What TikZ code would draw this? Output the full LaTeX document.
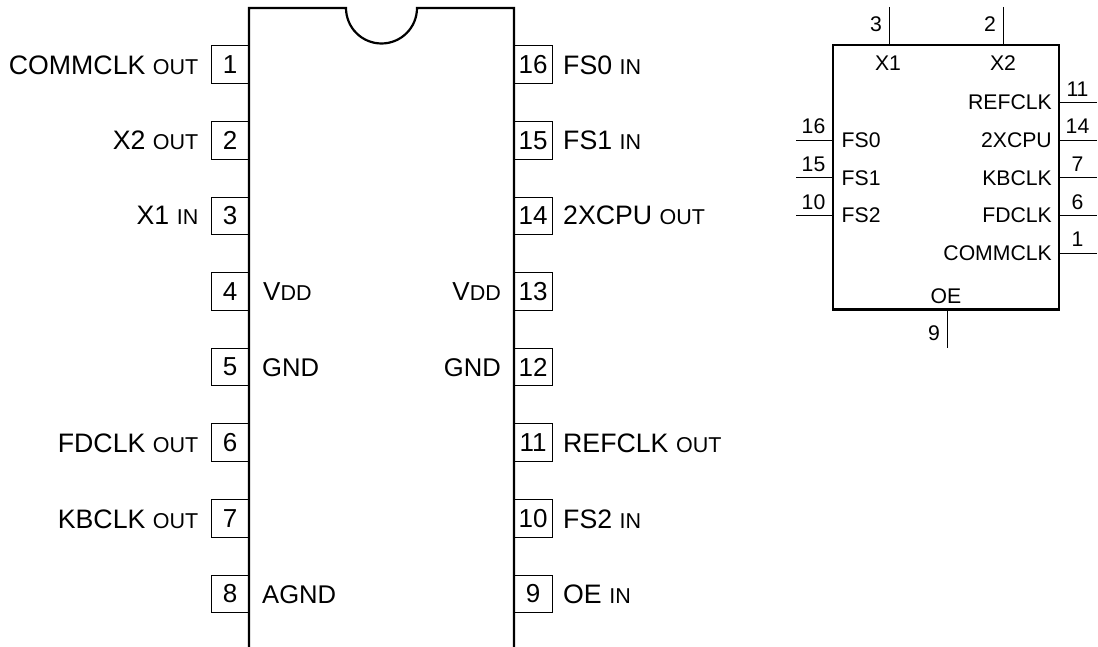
\documentclass[tikz,border=0pt]{standalone}
\usepackage{fontspec}
\setmainfont{Liberation Sans}
\newcommand{\bigf}{\fontsize{26}{28}\selectfont}
\newcommand{\labf}{\fontsize{26.7}{28}\selectfont}
\newcommand{\smf}{\fontsize{21.5}{24}\selectfont}
\newcommand{\blkf}{\fontsize{21.2}{24}\selectfont}
\newcommand{\lab}[2]{{\labf #1}\hspace{7.5pt}{\smf #2}}
\tikzset{
  x=1pt,y=-1pt,
  pinbox/.style={draw=black,line width=0.8pt,minimum width=38pt,minimum height=37.5pt,inner sep=0pt,font=\bigf},
  body/.style={draw=black,line width=2.2pt},
  biglab/.style={inner sep=0pt,font=\fontsize{25.6}{28}\selectfont},
  smlab/.style={inner sep=0pt,font=\blkf},
  lead/.style={draw=black,line width=0.9pt},
}
\begin{document}
\begin{tikzpicture}
\useasboundingbox (0,0) rectangle (1098,647);
% DIP body
\draw[body] (249,650) -- (249,8) -- (346,8) arc[start angle=180,end angle=360,x radius=35.5,y radius=-35.5] -- (514,8) -- (514,650);
% Left pins
\foreach \n/\yy in {1/64.5,2/140.3,3/215.9,4/291.5,5/367,6/442.6,7/518.2,8/593.8}
  \node[pinbox,anchor=center] (L\n) at (230,\yy) {\n};
% Right pins
\foreach \n/\yy in {16/64.5,15/140.3,14/215.9,13/291.5,12/367,11/442.6,10/518.2,9/593.8}
  \node[pinbox,anchor=center] (R\n) at (533,\yy) {\n};
% Left labels
\node[anchor=base east,inner sep=0pt] (tL1) at (198.5,74.5) {\lab{COMMCLK}{OUT}};
\node[anchor=base east,inner sep=0pt] (tL2) at (198.5,150) {\lab{X2}{OUT}};
\node[anchor=base east,inner sep=0pt] (tL3) at (198.5,225) {\lab{X1}{IN}};
\node[anchor=base east,inner sep=0pt] (tL6) at (198.5,452) {\lab{FDCLK}{OUT}};
\node[anchor=base east,inner sep=0pt] (tL7) at (198.5,528) {\lab{KBCLK}{OUT}};
% Inner labels
\node[anchor=base west,inner sep=0pt] (tV1) at (263,301) {{\bigf V}{\smf DD}};
\node[anchor=base west,biglab] (tG1) at (262,376) {GND};
\node[anchor=base west,biglab] (tA1) at (262,603) {AGND};
\node[anchor=base east,inner sep=0pt] (tV2) at (501,301) {{\bigf V}{\smf DD}};
\node[anchor=base east,biglab] (tG2) at (501,376) {GND};
% Right labels
\node[anchor=base west,inner sep=0pt] (tR16) at (563,74.5) {\lab{FS0}{IN}};
\node[anchor=base west,inner sep=0pt] (tR15) at (563,150) {\lab{FS1}{IN}};
\node[anchor=base west,inner sep=0pt] (tR14) at (563,225) {\lab{2XCPU}{OUT}};
\node[anchor=base west,inner sep=0pt] (tR11) at (563,452) {\lab{REFCLK}{OUT}};
\node[anchor=base west,inner sep=0pt] (tR10) at (563,528) {\lab{FS2}{IN}};
\node[anchor=base west,inner sep=0pt] (tR9) at (563,603) {\lab{OE}{IN}};
% Symbol block
\draw[body] (833,44.7) rectangle (1059,309.5);
\coordinate (cX1t) at (889,7); \coordinate (cX1b) at (889,44.7);
\coordinate (cX2t) at (1003,7); \coordinate (cX2b) at (1003,44.7);
\coordinate (cOEt) at (947,309.5); \coordinate (cOEb) at (947,347.5);
\draw[lead] (cX1t) -- (cX1b);
\draw[lead] (cX2t) -- (cX2b);
\draw[lead] (cOEt) -- (cOEb);
\node[anchor=base east,smlab] (n3) at (882,32) {3};
\node[anchor=base east,smlab] (n2) at (996,32) {2};
\node[anchor=base east,smlab] (n9) at (940,340) {9};
\node[anchor=base,smlab] (sX1) at (888,71) {X1};
\node[anchor=base,smlab] (sX2) at (1003,71) {X2};
\node[anchor=base,smlab] (sOE) at (946,303) {OE};
\foreach \n/\t/\yy in {16/FS0/140,15/FS1/177.7,10/FS2/215.3}{
  \coordinate (pa\n) at (796,\yy);
  \coordinate (pb\n) at (833,\yy);
  \draw[lead] (pa\n) -- (pb\n);
  \node[anchor=base,smlab] (pn\n) at (813.5,\yy-6) {\n};
  \node[anchor=base west,smlab] (pt\n) at (841.5,\yy+7.5) {\t};
}
\foreach \n/\t/\yy in {11/REFCLK/102.2,14/2XCPU/140,7/KBCLK/177.7,6/FDCLK/215.3,1/COMMCLK/253}{
  \coordinate (qa\n) at (1059,\yy);
  \coordinate (qb\n) at (1097,\yy);
  \draw[lead] (qa\n) -- (qb\n);
  \node[anchor=base,smlab] (qn\n) at (1077.5,\yy-6) {\n};
  \node[anchor=base east,smlab] (qt\n) at (1052,\yy+7.5) {\t};
}
\end{tikzpicture}
\end{document}
